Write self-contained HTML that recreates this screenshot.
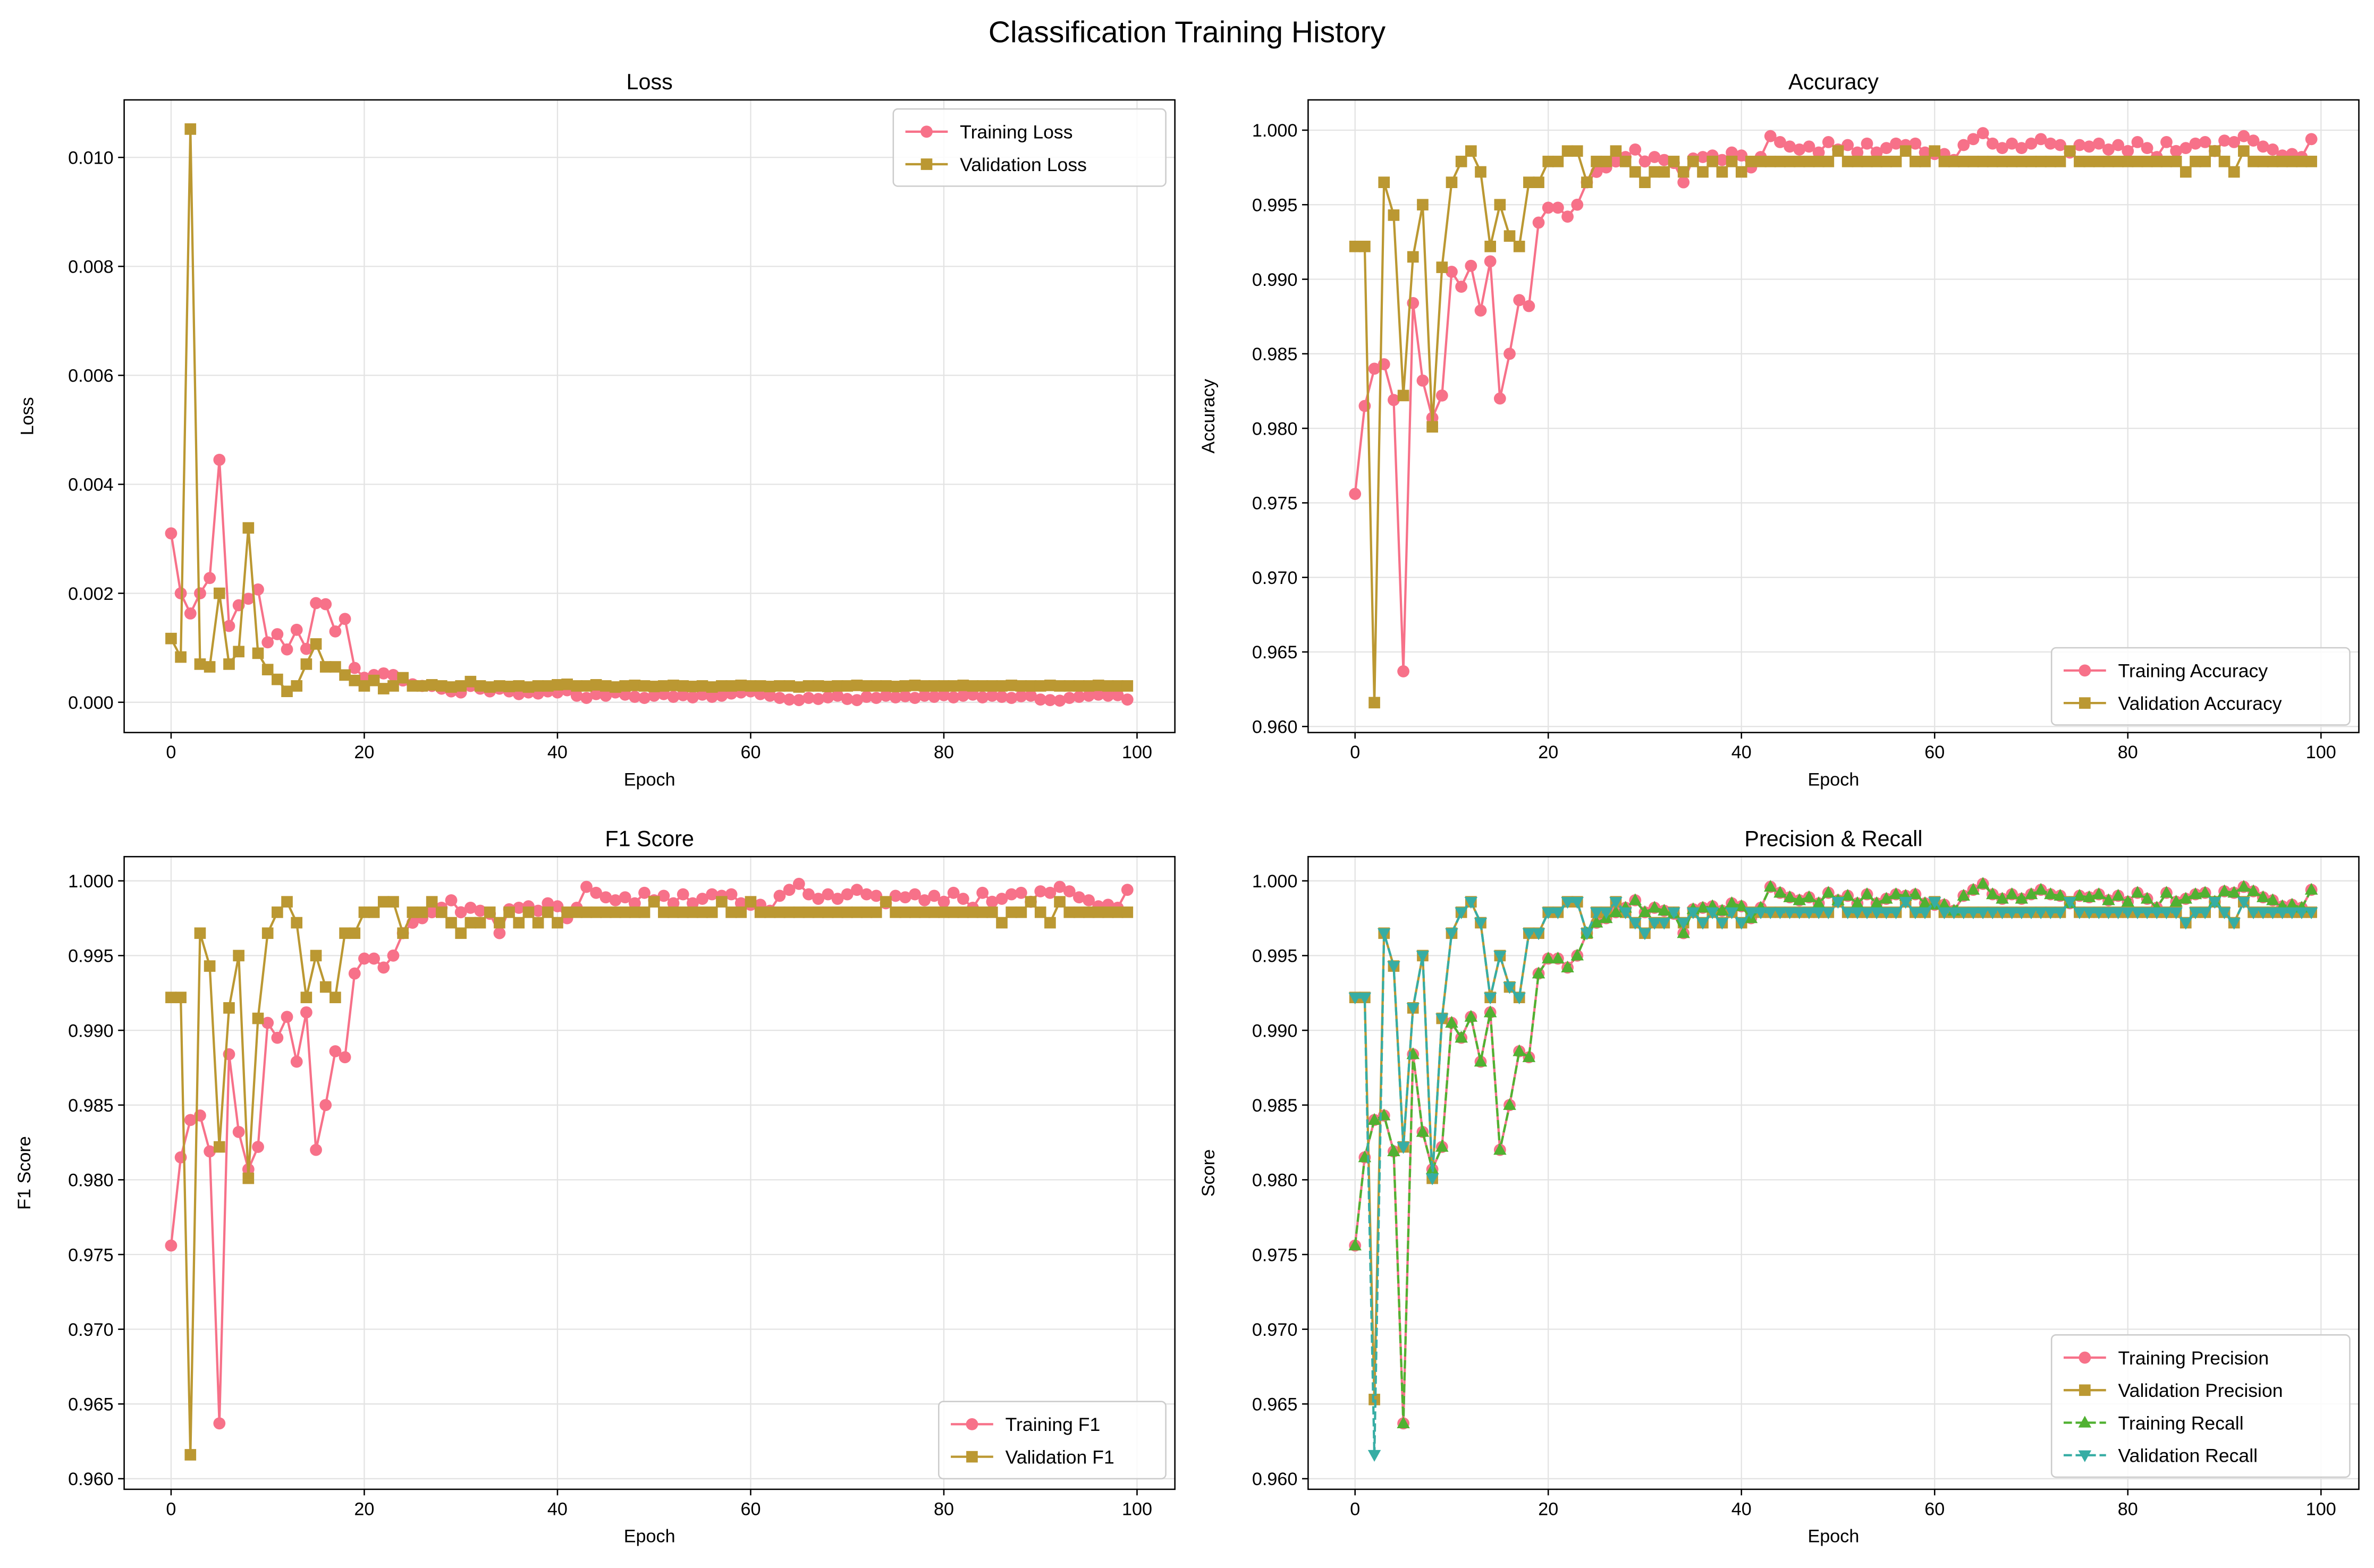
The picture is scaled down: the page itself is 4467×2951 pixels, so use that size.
<!DOCTYPE html>
<html><head><meta charset="utf-8">
<style>
html,body{margin:0;padding:0;background:#fff;}
svg{display:block;font-family:"Liberation Sans","DejaVu Sans",sans-serif;}
</style></head>
<body>
<svg id="fig" width="4467" height="2951" viewBox="0 0 1568 1036" preserveAspectRatio="none" xmlns="http://www.w3.org/2000/svg">
<rect width="1568" height="1036" fill="#fff"/>
<text x="784" y="28" text-anchor="middle" font-size="20" fill="#000">Classification Training History</text>
</svg>
<script>
const epochs = Array.from({length:100},(_,i)=>i);
const trainAcc = [0.9756,0.9815,0.9840,0.9843,0.9819,0.9637,0.9884,0.9832,0.9807,0.9822,0.9905,0.9895,0.9909,0.9879,0.9912,0.9820,0.9850,0.9886,0.9882,0.9938,
0.9948,0.9948,0.9942,0.9950,0.9965,0.9972,0.9975,0.9979,0.9982,0.9987,0.9979,0.9982,0.9980,0.9978,0.9965,0.9981,0.9982,0.9983,0.9980,0.9985,
0.9983,0.9975,0.9982,0.9996,0.9992,0.9989,0.9987,0.9989,0.9985,0.9992,0.9987,0.9990,0.9985,0.9991,0.9985,0.9988,0.9991,0.9990,0.9991,0.9985,
0.9984,0.9984,0.9980,0.9990,0.9994,0.9998,0.9991,0.9988,0.9991,0.9988,0.9991,0.9994,0.9991,0.9990,0.9985,0.9990,0.9989,0.9991,0.9987,0.9990,
0.9986,0.9992,0.9988,0.9982,0.9992,0.9986,0.9988,0.9991,0.9992,0.9986,0.9993,0.9992,0.9996,0.9993,0.9989,0.9987,0.9983,0.9984,0.9982,0.9994];
const valAcc = [0.9922,0.9922,0.9616,0.9965,0.9943,0.9822,0.9915,0.9950,0.9801,0.9908,0.9965,0.9979,0.9986,0.9972,0.9922,0.9950,0.9929,0.9922,0.9965,0.9965,
0.9979,0.9979,0.9986,0.9986,0.9965,0.9979,0.9979,0.9986,0.9979,0.9972,0.9965,0.9972,0.9972,0.9979,0.9972,0.9979,0.9972,0.9979,0.9972,0.9979,
0.9972,0.9979,0.9979,0.9979,0.9979,0.9979,0.9979,0.9979,0.9979,0.9979,0.9986,0.9979,0.9979,0.9979,0.9979,0.9979,0.9979,0.9986,0.9979,0.9979,
0.9986,0.9979,0.9979,0.9979,0.9979,0.9979,0.9979,0.9979,0.9979,0.9979,0.9979,0.9979,0.9979,0.9979,0.9986,0.9979,0.9979,0.9979,0.9979,0.9979,
0.9979,0.9979,0.9979,0.9979,0.9979,0.9979,0.9972,0.9979,0.9979,0.9986,0.9979,0.9972,0.9986,0.9979,0.9979,0.9979,0.9979,0.9979,0.9979,0.9979];
const valPrec = valAcc.map((v,i)=> i===2 ? 0.9653 : v);
const trainLoss = [0.0031,0.0020,0.00163,0.0020,0.00228,0.00445,0.0014,0.00178,0.0019,0.00207,0.0011,0.00125,0.00097,0.00133,0.00098,0.00182,0.0018,0.0013,0.00153,0.00063,
0.00045,0.0005,0.00053,0.0005,0.0004,0.00033,0.0003,0.0003,0.00025,0.0002,0.00018,0.0003,0.00025,0.0002,0.00025,0.0002,0.00015,0.00018,0.00016,0.0002,
0.00018,0.00022,0.00012,0.00008,0.00015,0.00012,0.00018,0.00014,0.0001,0.00008,0.00012,0.00015,0.0001,0.00013,0.00009,0.00014,0.0001,0.00012,0.00016,0.00018,
0.0002,0.00015,0.00012,0.00008,0.00005,0.00004,0.00008,0.00006,0.00009,0.00012,0.00006,0.00004,0.0001,0.00008,0.00012,0.00009,0.00011,0.00008,0.00012,0.0001,
0.00013,0.00009,0.00012,0.00014,0.00009,0.00012,0.0001,0.00008,0.00011,0.00012,0.00005,0.00004,0.00003,0.00008,0.0001,0.00012,0.00014,0.00012,0.00013,0.00005];
const valLoss = [0.00117,0.00083,0.01052,0.0007,0.00065,0.002,0.0007,0.00093,0.0032,0.0009,0.0006,0.00042,0.0002,0.0003,0.0007,0.00107,0.00065,0.00065,0.0005,0.0004,
0.0003,0.0004,0.00025,0.0003,0.00045,0.0003,0.0003,0.00032,0.0003,0.00028,0.0003,0.00038,0.0003,0.00028,0.0003,0.00029,0.0003,0.00028,0.0003,0.0003,
0.00032,0.00033,0.0003,0.0003,0.00032,0.0003,0.00028,0.0003,0.00031,0.0003,0.00029,0.0003,0.00031,0.0003,0.00029,0.0003,0.00028,0.0003,0.0003,0.00031,
0.0003,0.0003,0.00029,0.0003,0.0003,0.00028,0.0003,0.0003,0.00029,0.0003,0.0003,0.00031,0.0003,0.0003,0.0003,0.00029,0.0003,0.00031,0.0003,0.0003,
0.0003,0.0003,0.00031,0.0003,0.0003,0.0003,0.0003,0.00031,0.0003,0.0003,0.0003,0.00031,0.0003,0.0003,0.0003,0.0003,0.00031,0.0003,0.0003,0.0003];
const xTicks = [0,20,40,60,80,100];
const lossTicks = [0.000,0.002,0.004,0.006,0.008,0.010];
const accTicks = [0.960,0.965,0.970,0.975,0.980,0.985,0.990,0.995,1.000];

const NS="http://www.w3.org/2000/svg";
const svg=document.getElementById('fig');
function mk(tag,attrs,parent){const e=document.createElementNS(NS,tag);for(const k in attrs)e.setAttribute(k,attrs[k]);(parent||svg).appendChild(e);return e;}
const PINK="#f77189",GOLD="#bb9832",GREEN="#50b131",TEAL="#36ada4";

function marker(g,type,x,y,color){
  let e;
  if(type==='o') e=mk('circle',{cx:x,cy:y,r:4,fill:color},g);
  else if(type==='s') e=mk('rect',{x:x-3.8,y:y-3.8,width:7.6,height:7.6,fill:color},g);
  else if(type==='^') e=mk('polygon',{points:`${x},${y-4.6} ${x-4.3},${y+3.2} ${x+4.3},${y+3.2}`,fill:color},g);
  else e=mk('polygon',{points:`${x},${y+4.6} ${x-4.3},${y-3.2} ${x+4.3},${y-3.2}`,fill:color},g);
  
  
}

function panel(p){
  const {L,R,T,B,x0,x100,yA,yAv,yB,yBv}=p;
  const xs=v=>x0+(x100-x0)*v/100;
  const ys=v=>yA+(yB-yA)*(v-yAv)/(yBv-yAv);
  const g=mk('g',{});
  
  
  // grid
  xTicks.forEach(t=>{const X=xs(t);if(X>=L&&X<=R)mk('line',{x1:X,x2:X,y1:T,y2:B,stroke:'#e3e3e3','stroke-width':0.8},g);});
  p.yTicks.forEach(t=>{mk('line',{x1:L,x2:R,y1:ys(t),y2:ys(t),stroke:'#e3e3e3','stroke-width':0.8},g);});
  // series
  p.series.forEach(s=>{
    const sg=mk('g',{},g);
    
    
    const pts=s.data.map((v,i)=>xs(epochs[i]).toFixed(2)+','+ys(v).toFixed(2)).join(' ');
    const attrs={points:pts,fill:'none',stroke:s.color,'stroke-width':1.5,'stroke-linejoin':'round'};
    if(s.dash)attrs['stroke-dasharray']='5.5,2.4';
    mk('polyline',attrs,sg);
    s.data.forEach((v,i)=>marker(sg,s.m,xs(epochs[i]),ys(v),s.color));
  });
  // frame
  const fr=mk('rect',{x:L,y:T,width:R-L,height:B-T,fill:'none',stroke:'#000','stroke-width':0.9},g);
  
  
  xTicks.forEach(t=>{const X=xs(t);if(X<L||X>R)return;
    mk('line',{x1:X,x2:X,y1:B,y2:B+4,stroke:'#000','stroke-width':0.9},g);
    const tx=mk('text',{x:X,y:B+17,'text-anchor':'middle','font-size':12},g);tx.textContent=t;
    
    
  });
  p.yTicks.forEach(t=>{const Y=ys(t);
    mk('line',{x1:L-4,x2:L,y1:Y,y2:Y,stroke:'#000','stroke-width':0.9},g);
    const tx=mk('text',{x:L-7,y:Y+4.3,'text-anchor':'end','font-size':12},g);tx.textContent=t.toFixed(3);
    
    
  });
  const tt=mk('text',{x:(L+R)/2,y:T-7,'text-anchor':'middle','font-size':14.5},g);tt.textContent=p.title;
  
  
  const xl=mk('text',{x:(L+R)/2,y:B+35,'text-anchor':'middle','font-size':12},g);xl.textContent='Epoch';
  
  
  const yl=mk('text',{x:0,y:0,'text-anchor':'middle','font-size':12,transform:`translate(${p.ylx},${(T+B)/2}) rotate(-90)`},g);yl.textContent=p.ylabel;
  
  
  // legend
  const lg=mk('g',{},g);
  
  
  const n=p.series.length, lx=p.leg.x, ly=p.leg.y, lw=p.leg.w, lh=8+n*21.5;
  mk('rect',{x:lx,y:ly,width:lw,height:lh,rx:3,fill:'#fff','fill-opacity':0.85,stroke:'#cccccc','stroke-width':0.9},lg);
  p.series.forEach((s,i)=>{
    const cy=ly+15+i*21.5;
    const ea={x1:lx+8,x2:lx+36,y1:cy,y2:cy,stroke:s.color,'stroke-width':1.5};
    if(s.dash)ea['stroke-dasharray']='5.5,2.4';
    const le=mk('line',ea,lg);
    marker(lg,s.m,lx+22,cy,s.color);
    const tx=mk('text',{x:lx+44,y:cy+4.5,'font-size':12.5},lg);tx.textContent=s.label;
    
    
  });
}

panel({name:'loss-panel',title:'Loss',ylabel:'Loss',ylx:22,L:82,R:776,T:66,B:484,x0:113,x100:751,yA:464,yAv:0,yB:104,yBv:0.010,yTicks:lossTicks,
  leg:{x:590,y:72,w:180},
  series:[{id:'training-loss-series',label:'Training Loss',data:trainLoss,color:PINK,m:'o'},{id:'validation-loss-series',label:'Validation Loss',data:valLoss,color:GOLD,m:'s'}]});
panel({name:'accuracy-panel',title:'Accuracy',ylabel:'Accuracy',ylx:802,L:864,R:1558,T:66,B:484,x0:895,x100:1533,yA:86,yAv:1.0,yB:480,yBv:0.960,yTicks:accTicks,
  leg:{x:1355,y:428,w:197},
  series:[{id:'training-accuracy-series',label:'Training Accuracy',data:trainAcc,color:PINK,m:'o'},{id:'validation-accuracy-series',label:'Validation Accuracy',data:valAcc,color:GOLD,m:'s'}]});
panel({name:'f1-panel',title:'F1 Score',ylabel:'F1 Score',ylx:20,L:82,R:776,T:566,B:984,x0:113,x100:751,yA:582,yAv:1.0,yB:977,yBv:0.960,yTicks:accTicks,
  leg:{x:620,y:926,w:150},
  series:[{id:'training-f1-series',label:'Training F1',data:trainAcc,color:PINK,m:'o'},{id:'validation-f1-series',label:'Validation F1',data:valAcc,color:GOLD,m:'s'}]});
panel({name:'precision-recall-panel',title:'Precision & Recall',ylabel:'Score',ylx:802,L:864,R:1558,T:566,B:984,x0:895,x100:1533,yA:582,yAv:1.0,yB:977,yBv:0.960,yTicks:accTicks,
  leg:{x:1355,y:882,w:197},
  series:[{id:'training-precision-series',label:'Training Precision',data:trainAcc,color:PINK,m:'o'},
          {id:'validation-precision-series',label:'Validation Precision',data:valPrec,color:GOLD,m:'s'},
          {id:'training-recall-series',label:'Training Recall',data:trainAcc,color:GREEN,m:'^',dash:true},
          {id:'validation-recall-series',label:'Validation Recall',data:valAcc,color:TEAL,m:'v',dash:true}]});
</script>
</body></html>
